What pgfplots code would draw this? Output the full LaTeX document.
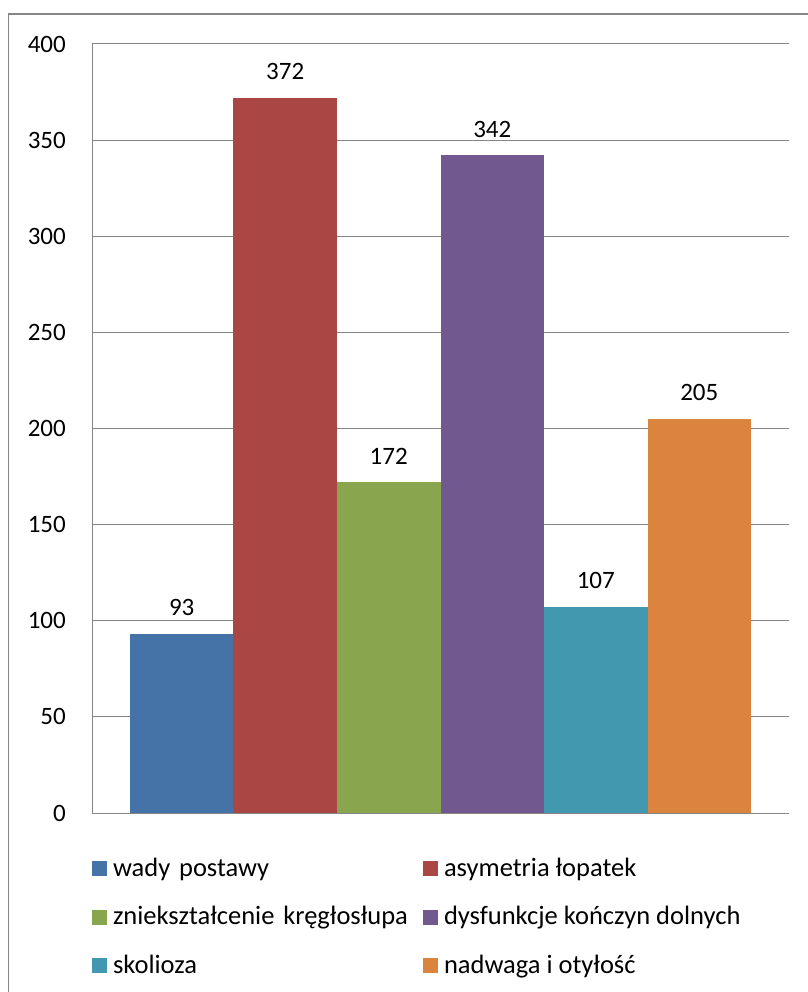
\documentclass[border=0pt]{standalone}
\usepackage{pgfplots}
\pgfplotsset{compat=1.18}
\usepackage{fontspec}
\setmainfont{Carlito}
\definecolor{c1}{HTML}{4572A7}
\definecolor{c2}{HTML}{AA4643}
\definecolor{c3}{HTML}{89A54E}
\definecolor{c4}{HTML}{71588F}
\definecolor{c5}{HTML}{4198AF}
\definecolor{c6}{HTML}{DB843D}
\definecolor{gridgray}{HTML}{868686}
\newcommand{\cf}{\fontsize{25bp}{30bp}\selectfont}
\newcommand{\lf}{\fontsize{26.5bp}{30bp}\selectfont}
\begin{document}
\begin{tikzpicture}
\useasboundingbox (0,0) rectangle (808bp,992bp);
\draw[color=gridgray, line width=1.3bp] (8.5bp,-20bp) -- (8.5bp,978bp) -- (830bp,978bp);
\begin{axis}[
  at={(92bp,179bp)}, anchor=south west,
  scale only axis, width=697bp, height=769bp,
  xmin=-0.867, xmax=5.867, ymin=0, ymax=400,
  ytick={0,50,...,400}, xtick=\empty,
  axis x line*=bottom, axis y line*=left,
  axis line style={draw=gridgray, line width=1bp, -},
  ymajorgrids, grid style={gridgray, line width=1bp},
  major tick length=0pt,
  /pgf/number format/assume math mode=true,
  yticklabel style={font=\cf, inner sep=0pt, anchor=east, xshift=-26bp},
  ybar, bar width=1, bar shift=0pt,
  nodes near coords,
  every node near coord/.append style={font=\cf, inner sep=0pt, anchor=south, yshift=18bp, color=black},
  legend columns=2,
  legend image code/.code={\fill[#1] (0bp,0bp) rectangle (15bp,15bp);},
  legend style={draw=none, fill=none, at={(0,0)}, anchor=north west, yshift=-45bp,
    inner sep=0pt, outer sep=0pt, row sep=24.5bp,
    cells={anchor=base west},
    nodes={inner sep=0pt, text height=18bp, text depth=6bp, font=\lf},
    /tikz/column 2/.append style={nodes={text width=300bp, align=left}},
    /tikz/every odd column/.append style={column sep=6bp},
    /tikz/every even column/.append style={column sep=10bp}},
]
\addplot[fill=c1, draw=none] coordinates {(0,93)};
\addlegendentry{wady postawy}
\addplot[fill=c2, draw=none] coordinates {(1,372)};
\addlegendentry{asymetria łopatek}
\addplot[fill=c3, draw=none] coordinates {(2,172)};
\addlegendentry{zniekształcenie kręgłosłupa}
\addplot[fill=c4, draw=none] coordinates {(3,342)};
\addlegendentry{dysfunkcje kończyn dolnych}
\addplot[fill=c5, draw=none] coordinates {(4,107)};
\addlegendentry{skolioza}
\addplot[fill=c6, draw=none] coordinates {(5,205)};
\addlegendentry{nadwaga i otyłość}
\end{axis}
\end{tikzpicture}
\end{document}
